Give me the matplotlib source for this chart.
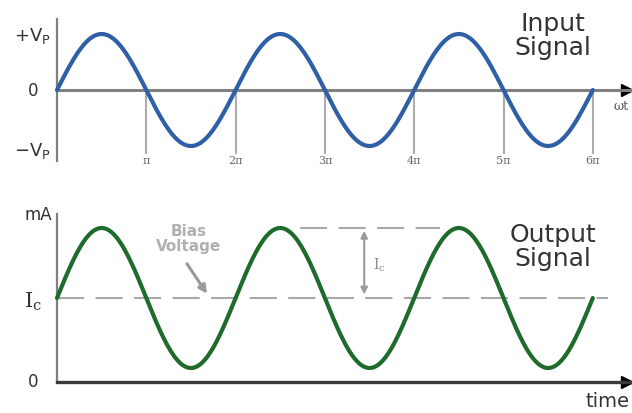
import numpy as np
import matplotlib.pyplot as plt

# signal description (x in units of pi, y in Vp / mA)
cycles = 3
vp = 1.0
ic_bias = 1.2
ic_amp = 1.0
tick_pos = [1, 2, 3, 4, 5, 6]
tick_labels = ['π', '2π', '3π', '4π', '5π', '6π']
peak_dash = [2.72, 4.29]
bias_dash_end = 6.17
ic_arrow_x = 3.44
bias_arrow_from = (1.455, 1.69)
bias_arrow_to = (1.68, 1.26)

W, H = 632, 414
blue = '#2f5fa6'
green = '#1f6b2b'
grey = '#808080'


def fx(px):
    return px / W


def fy(py):
    return 1 - py / H


theta = np.linspace(0, 2 * np.pi * cycles, 800)
x = theta / np.pi
vin = vp * np.sin(theta)
iout = ic_bias + ic_amp * np.sin(theta)

fig = plt.figure(figsize=(W / 100, H / 100), dpi=100)

# input panel
ax1 = fig.add_axes([fx(57), fy(162), fx(575), 142 / H])
ax2 = fig.add_axes([fx(57), fy(383), fx(575), 168 / H])
xmax = 575 / 89.3

for ax in (ax1, ax2):
    ax.set_xlim(0, xmax)
    ax.set_xticks([])
    ax.set_yticks([])
    ax.patch.set_visible(False)
    ax.spines['top'].set_visible(False)
    ax.spines['right'].set_visible(False)
    ax.spines['left'].set_color(grey)
    ax.spines['left'].set_linewidth(1.6)

ax1.set_ylim(-1.268, 1.268)
ax1.spines['bottom'].set_position(('data', 0))
ax1.spines['bottom'].set_color(grey)
ax1.spines['bottom'].set_linewidth(2.2)
ax1.plot([xmax - 0.06], [0], marker='>', ms=8, color='black', clip_on=False)

ax1.vlines(tick_pos, -1.14, 0, color='#ababab', lw=1.5, zorder=1)
for p, lab in zip(tick_pos, tick_labels):
    ax1.text(p, -1.25, lab, ha='center', va='center', fontsize=8,
             family='DejaVu Serif', color='#666666', clip_on=False)
ax1.plot(x, vin, color=blue, lw=3, solid_capstyle='round', zorder=3,
         clip_on=False)

# output panel
ax2.set_ylim(0, 2.4)
ax2.spines['bottom'].set_color('#3a3a3a')
ax2.spines['bottom'].set_linewidth(2.4)
ax2.plot([xmax - 0.06], [0], marker='>', ms=8, color='black', clip_on=False)

ax2.plot([0, bias_dash_end], [ic_bias, ic_bias], color='#a8a8a8', lw=1.5,
         dashes=(13, 5.5), zorder=1, clip_on=False)
ax2.plot(peak_dash, [ic_bias + ic_amp] * 2, color='#a8a8a8', lw=1.5,
         dashes=(13, 5.5), zorder=1)
ax2.annotate('', xy=(ic_arrow_x, ic_bias + ic_amp - 0.04),
             xytext=(ic_arrow_x, ic_bias + 0.05),
             arrowprops=dict(arrowstyle='<|-|>', color='#9a9a9a', lw=1.5,
                             mutation_scale=10, shrinkA=0, shrinkB=0))
ax2.text(ic_arrow_x + 0.1, 1.68, r'$\mathregular{I_c}$', family='DejaVu Serif',
         color='#8a8a8a', fontsize=10, va='center')
ax2.annotate('', xy=bias_arrow_to, xytext=bias_arrow_from,
             arrowprops=dict(arrowstyle='-|>', color='#9a9a9a', lw=2.2,
                             mutation_scale=12, shrinkA=0, shrinkB=0))
ax2.plot(x, iout, color=green, lw=3, solid_capstyle='round', zorder=3,
         clip_on=False)

# labels
txt = '#333333'
fig.text(fx(51), fy(36), r'$\mathregular{+V_P}$', ha='right', va='center',
         fontsize=13, color=txt)
fig.text(fx(33), fy(91), '0', ha='center', va='center', fontsize=12, color=txt)
fig.text(fx(51), fy(151), r'$\mathregular{-V_P}$', ha='right', va='center',
         fontsize=13, color=txt)
fig.text(fx(553), fy(36), 'Input\nSignal', ha='center', va='center',
         fontsize=18, color=txt, linespacing=0.95)
fig.text(fx(621), fy(106), 'ωt', ha='center', va='center', fontsize=9,
         family='DejaVu Serif', color='#555555')

fig.text(fx(52), fy(215), 'mA', ha='right', va='center', fontsize=12, color=txt)
fig.text(fx(42), fy(302), r'$\mathregular{I_c}$', ha='right', va='center',
         fontsize=15, family='DejaVu Serif', color=txt)
fig.text(fx(33), fy(382), '0', ha='center', va='center', fontsize=12, color=txt)
fig.text(fx(553), fy(247), 'Output\nSignal', ha='center', va='center',
         fontsize=18, color=txt, linespacing=0.95)
fig.text(fx(189), fy(239), 'Bias\nVoltage', ha='center', va='center',
         fontsize=11, fontweight='bold', color='#b0b0b0', linespacing=1.05)
fig.text(fx(630), fy(411), 'time', ha='right', va='bottom', fontsize=14,
         color=txt)

fig.savefig('out.png', dpi=100)
